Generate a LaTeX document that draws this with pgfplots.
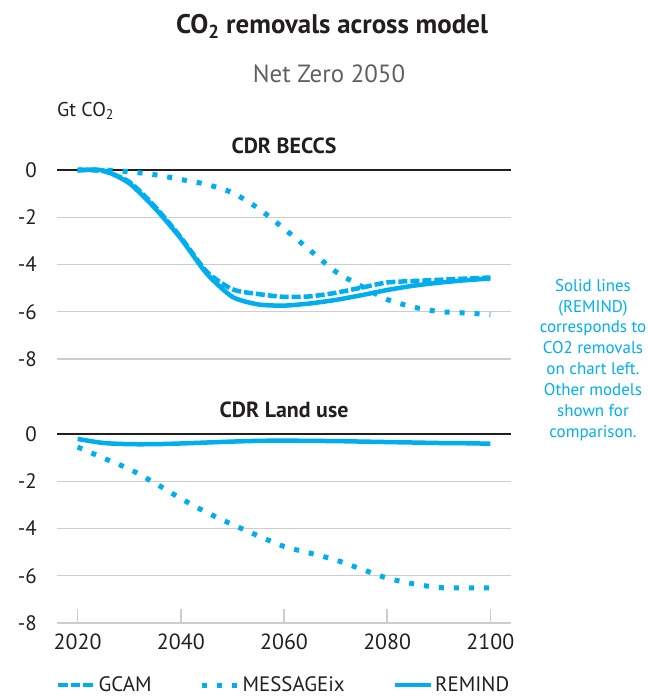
\documentclass[border=0pt]{standalone}
\usepackage{pgfplots}
\usepackage{pgfplotstable}
\usepackage{fontspec}
\setmainfont{PT Sans}
\pgfplotsset{compat=1.18}

\definecolor{cdrblue}{RGB}{0,174,239}
\definecolor{titlegray}{RGB}{35,31,32}
\definecolor{subgray}{RGB}{95,96,98}
\definecolor{gridgray}{RGB}{205,205,205}

% BECCS removals, Gt CO2
\pgfplotstableread{
year gcam message remind
2020 0.00 0.00 0.00
2025 -0.05 0.00 -0.02
2030 -0.50 -0.07 -0.56
2035 -1.55 -0.20 -1.62
2040 -2.85 -0.40 -2.90
2045 -4.30 -0.61 -4.38
2050 -5.05 -0.96 -5.37
2055 -5.25 -1.62 -5.69
2060 -5.37 -2.48 -5.74
2065 -5.35 -3.39 -5.65
2070 -5.20 -4.30 -5.50
2075 -4.98 -4.92 -5.30
2080 -4.76 -5.48 -5.08
2085 -4.70 -5.80 -4.90
2090 -4.65 -5.99 -4.77
2095 -4.60 -6.05 -4.67
2100 -4.55 -6.12 -4.59
}\beccs

% land use removals, Gt CO2
\pgfplotstableread{
year message remind
2020 -0.55 -0.21
2025 -1.02 -0.38
2030 -1.48 -0.43
2035 -2.08 -0.43
2040 -2.73 -0.40
2045 -3.32 -0.36
2050 -3.83 -0.32
2055 -4.31 -0.29
2060 -4.76 -0.28
2065 -5.04 -0.29
2070 -5.33 -0.30
2075 -5.72 -0.32
2080 -6.10 -0.34
2085 -6.34 -0.36
2090 -6.50 -0.38
2095 -6.51 -0.39
2100 -6.51 -0.41
}\landuse

\pgfplotsset{
  cdrpanel/.style={
    scale only axis, width=454bp, height=189bp,
    xmin=2016, xmax=2104, ymin=-8, ymax=0,
    clip=false,
    axis line style={draw=none},
    ytick={-8,-6,-4,-2}, extra y ticks={0},
    ymajorgrids, grid style={gridgray, line width=1.4bp},
    extra y tick style={grid style={titlegray, line width=1.2bp}},
    ytick style={draw=none},
    yticklabel style={anchor=east, inner sep=0pt, xshift=-20bp, font=\fontsize{21}{24}\selectfont, text=titlegray},
    /pgf/number format/assume math mode=true,
    title style={font=\bfseries\fontsize{22}{25}\selectfont, text=titlegray, yshift=7bp},
  },
  gcamline/.style={cdrblue, line width=4.5bp, dash pattern=on 9bp off 3bp, smooth, tension=0.4},
  msgline/.style={cdrblue, line width=5bp, dash pattern=on 5bp off 10bp, smooth, tension=0.4},
  remline/.style={cdrblue, line width=4.5bp, smooth, tension=0.4},
}

\begin{document}
\begin{tikzpicture}
\useasboundingbox (0,0) rectangle (648bp,-697bp);

\node[font=\bfseries\fontsize{27}{30}\selectfont, text=titlegray] at (332bp,-26bp) {CO\textsubscript{2} removals across model};
\node[font=\fontsize{25}{28}\selectfont, text=subgray] at (329bp,-74bp) {Net Zero 2050};
\node[anchor=west, inner sep=0pt, font=\fontsize{20}{24}\selectfont, text=titlegray] at (57bp,-111bp) {Gt CO\textsubscript{2}};

\begin{axis}[cdrpanel, at={(57bp,-359bp)}, anchor=south west,
  xtick=\empty, title={CDR BECCS}]
\addplot[gcamline] table[x=year, y=gcam] {\beccs};
\addplot[msgline] table[x=year, y=message] {\beccs};
\addplot[remline] table[x=year, y=remind] {\beccs};
\end{axis}

\begin{axis}[cdrpanel, at={(57bp,-623bp)}, anchor=south west,
  title={CDR Land use},
  xtick={2020,2040,2060,2080,2100},
  xticklabel style={anchor=north, inner sep=0pt, yshift=-11bp, font=\fontsize{22}{24}\selectfont, text=titlegray,
    /pgf/number format/1000 sep={}},
  xtick style={draw=gridgray, line width=1.4bp},
  tick pos=lower, tick align=inside, major tick length=14bp,
  legend columns=3,
  legend style={at={(0,0)}, anchor=west, xshift=-4bp, yshift=-62bp, draw=none, fill=none,
    font=\fontsize{21}{24}\selectfont, text=titlegray,
    /tikz/every even column/.append style={column sep=46bp}},
  legend image code/.code={\draw[#1, smooth=false] (0bp,0bp) -- (36bp,0bp);},
]
\addlegendimage{cdrblue, line width=4.5bp, dash pattern=on 9.5bp off 3bp}
\addlegendentry{GCAM}
\addplot[msgline] table[x=year, y=message] {\landuse};
\addlegendentry{MESSAGEix}
\addplot[remline] table[x=year, y=remind] {\landuse};
\addlegendentry{REMIND}
\end{axis}

\node[align=center, text=cdrblue, font=\fontsize{17}{21}\selectfont, inner sep=0pt] at (593bp,-360bp)
  {Solid lines\\(REMIND)\\corresponds to\\CO2 removals\\on chart left.\\Other models\\shown for\\comparison.};
\end{tikzpicture}
\end{document}
